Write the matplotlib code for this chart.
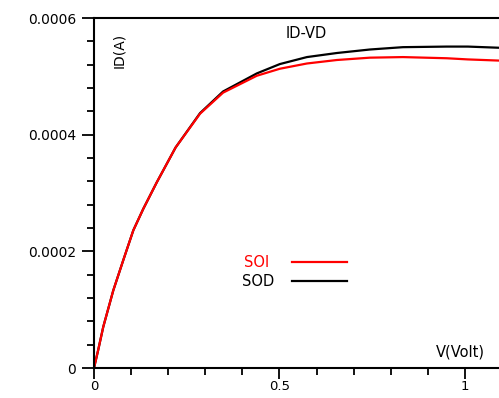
import matplotlib
matplotlib.use("Agg")
import matplotlib.pyplot as plt

# drain voltage (V) and drain current (A)
vd = [0.0, 0.011, 0.025, 0.052, 0.079, 0.106, 0.133, 0.169, 0.22,
      0.286, 0.348, 0.439, 0.501, 0.574, 0.655, 0.744, 0.833,
      0.951, 1.008, 1.092]
id_soi = [0.0, 0.000030, 0.0000706, 0.000133, 0.000185, 0.000236, 0.000273, 0.000318, 0.000378,
          0.000436, 0.000472, 0.000501, 0.000513, 0.000522, 0.000528, 0.000532, 0.000533,
          0.000531, 0.000529, 0.000527]
id_sod = [0.0, 0.000030, 0.0000706, 0.000133, 0.000185, 0.000236, 0.000273, 0.000318, 0.000378,
          0.000437, 0.000474, 0.000505, 0.000521, 0.000533, 0.000540, 0.000546, 0.000550,
          0.000551, 0.000551, 0.000549]

x_ticks = [0, 0.5, 1]
x_labels = ["0", "0.5", "1"]
y_ticks = [0, 0.0002, 0.0004, 0.0006]
y_labels = ["0", "0.0002", "0.0004", "0.0006"]

plt.rcParams['font.family'] = ['DejaVu Sans']

fig = plt.figure(figsize=(4.99, 3.98), dpi=100)
ax = fig.add_axes([94 / 499, 30 / 398, 405 / 499, 350 / 398])

ax.plot(vd, id_sod, color="black", lw=1.6)
ax.plot(vd, id_soi, color="red", lw=1.6)

ax.set_xlim(0, 1.092)
ax.set_ylim(0, 0.0006)
ax.set_xticks(x_ticks)
ax.set_xticklabels(x_labels)
ax.set_yticks(y_ticks)
ax.set_yticklabels(y_labels)
ax.set_xticks([i / 10 for i in range(11)], minor=True)
ax.set_yticks([i * 0.00004 for i in range(16)], minor=True)
ax.tick_params(which="major", direction="out", length=9, width=1.3, labelsize=10, pad=4)
ax.tick_params(which="minor", direction="out", length=5, width=1.3)
ax.tick_params(axis="x", which="major", length=8, labelsize=9.5, pad=1)

ax.spines["right"].set_visible(False)
for s in ["left", "bottom", "top"]:
    ax.spines[s].set_linewidth(1.5)

ax.text(0.067, 0.000575, "ID(A)", rotation=90, ha="center", va="top", fontsize=10)
ax.text(0.573, 0.000573, "ID-VD", ha="center", va="center", fontsize=10.5)
ax.text(1.054, 0.0000274, "V(Volt)", ha="right", va="center", fontsize=10.5)

# legend drawn as in the original tool
ax.text(0.405, 0.000181, "SOI", color="red", ha="left", va="center", fontsize=10.5)
ax.plot([0.534, 0.682], [0.000181, 0.000181], color="red", lw=1.6)
ax.text(0.400, 0.000149, "SOD", color="black", ha="left", va="center", fontsize=10.5)
ax.plot([0.534, 0.682], [0.000149, 0.000149], color="black", lw=1.6)

fig.savefig("out.png", dpi=100)
